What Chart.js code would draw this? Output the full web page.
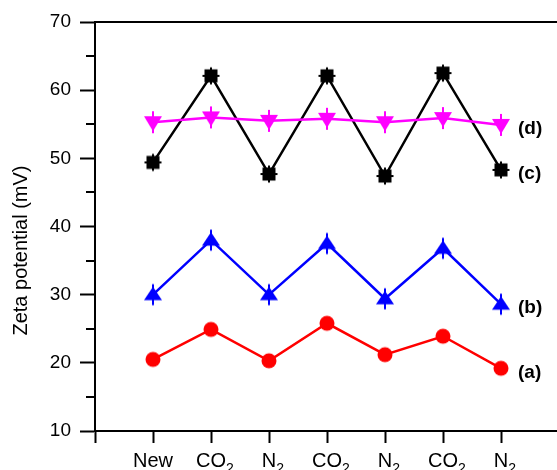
<!DOCTYPE html>
<html>
<head>
<meta charset="utf-8">
<title>Zeta potential</title>
<script src="https://cdn.jsdelivr.net/npm/chart.js@4/dist/chart.umd.min.js"></script>
<style>
  html, body { margin: 0; padding: 0; overflow: hidden; background: #fff; }
  #wrap { position: absolute; left: 0; top: 0; width: 580px; height: 470px; }
</style>
</head>
<body>
<div id="wrap"><canvas id="zeta-chart" width="580" height="470"></canvas></div>
<script>
"use strict";

// categories on the x axis (digits become subscripts when drawn)
const categories = ["New", "CO2", "N2", "CO2", "N2", "CO2", "N2"];
const yTicks = [10, 20, 30, 40, 50, 60, 70];

// zeta potential (mV)
const seriesA = [20.5, 24.9, 20.3, 25.8, 21.2, 23.9, 19.2];
const seriesB = [30.0, 38.0, 30.0, 37.5, 29.4, 36.8, 28.6];
const seriesC = [49.4, 62.1, 47.7, 62.1, 47.4, 62.5, 48.3];
const seriesD = [55.3, 56.0, 55.5, 55.8, 55.3, 55.9, 54.9];

const FONT = "Arial, 'Liberation Sans', Helvetica, sans-serif";

// small canvases used as point styles
function makeMarker(kind, color) {
  const c = document.createElement("canvas");
  c.width = 24;
  c.height = 24;
  const g = c.getContext("2d");
  const m = 12;
  g.fillStyle = color;
  g.strokeStyle = color;
  g.lineWidth = 2;
  if (kind === "circle") {
    g.beginPath();
    g.arc(m, m, 7.5, 0, Math.PI * 2);
    g.fill();
  } else if (kind === "up") {
    g.beginPath();
    g.moveTo(m, m - 8);
    g.lineTo(m + 9, m + 5.5);
    g.lineTo(m - 9, m + 5.5);
    g.closePath();
    g.fill();
    g.beginPath();
    g.moveTo(m, m - 10.5);
    g.lineTo(m, m + 10.5);
    g.stroke();
  } else if (kind === "down") {
    g.beginPath();
    g.moveTo(m - 9, m - 6);
    g.lineTo(m + 9, m - 6);
    g.lineTo(m, m + 9);
    g.closePath();
    g.fill();
    g.beginPath();
    g.moveTo(m, m - 11);
    g.lineTo(m, m + 11);
    g.stroke();
  } else {
    g.fillRect(m - 6.5, m - 6.5, 13, 13);
    g.beginPath();
    g.moveTo(m - 8.5, m); g.lineTo(m + 8.5, m);
    g.moveTo(m, m - 8.5); g.lineTo(m, m + 8.5);
    g.stroke();
  }
  return c;
}

function toPoints(values) {
  return categories.map((_, i) => ({ x: i, y: values[i] }));
}

function series(tag, values, color, marker) {
  return {
    label: tag,
    data: toPoints(values),
    borderColor: color,
    backgroundColor: color,
    borderWidth: 2.5,
    tension: 0,
    pointStyle: makeMarker(marker, color),
    pointRadius: 9,
    xAxisID: "x",
    yAxisID: "y"
  };
}

// series tags, minor y ticks, subscripted x labels, rotated y title
const decorPlugin = {
  id: "decor",
  afterDatasetsDraw(chart) {
    const ctx = chart.ctx;
    const xs = chart.scales.x;
    const ys = chart.scales.y;
    const area = chart.chartArea;

    ctx.save();
    ctx.fillStyle = "#000";
    ctx.font = "bold 19px " + FONT;
    ctx.textAlign = "left";
    ctx.textBaseline = "middle";
    chart.data.datasets.forEach((ds, i) => {
      const pts = chart.getDatasetMeta(i).data;
      const last = pts[pts.length - 1];
      ctx.fillText(ds.label, last.x + 17, last.y + 4);
    });

    // minor ticks on the y axis
    ctx.strokeStyle = "#000";
    ctx.lineWidth = 2;
    for (let v = yTicks[0] + 5; v < yTicks[yTicks.length - 1]; v += 10) {
      const y = Math.round(ys.getPixelForValue(v));
      ctx.beginPath();
      ctx.moveTo(area.left - 9, y);
      ctx.lineTo(area.left, y);
      ctx.stroke();
    }

    // x labels with subscripts
    ctx.textBaseline = "alphabetic";
    categories.forEach((label, i) => {
      const parts = label.match(/^(\D+)(\d*)$/);
      const main = parts[1];
      const sub = parts[2];
      const x = xs.getPixelForValue(i);
      ctx.font = "20px " + FONT;
      const w = ctx.measureText(main).width;
      ctx.fillText(main, x - w / 2, 467);
      if (sub) {
        ctx.font = "14px " + FONT;
        ctx.fillText(sub, x + w / 2, 473);
      }
    });

    // y axis title
    ctx.translate(21, (area.top + area.bottom) / 2 + 24);
    ctx.rotate(-Math.PI / 2);
    ctx.font = "20px " + FONT;
    ctx.textAlign = "center";
    ctx.textBaseline = "middle";
    ctx.fillText("Zeta potential (mV)", 0, 0);
    ctx.restore();
  }
};

const ctx = document.getElementById("zeta-chart");

new Chart(ctx, {
  type: "line",
  data: {
    datasets: [
      series("(d)", seriesD, "#ff00ff", "down"),
      series("(c)", seriesC, "#000000", "square"),
      series("(b)", seriesB, "#0000ff", "up"),
      series("(a)", seriesA, "#ff0000", "circle")
    ]
  },
  options: {
    responsive: false,
    animation: false,
    layout: { padding: { top: 22, right: 21, left: 0, bottom: 0 } },
    plugins: {
      legend: { display: false },
      tooltip: { enabled: false }
    },
    scales: {
      x: {
        type: "linear",
        position: "bottom",
        min: -1,
        max: categories.length,
        afterFit: (s) => { s.height = 39; },
        ticks: { display: false, stepSize: 1 },
        grid: {
          drawOnChartArea: false,
          tickLength: 12,
          tickWidth: 2,
          tickColor: "#000"
        },
        border: { color: "#000", width: 2 }
      },
      xTop: {
        type: "linear",
        position: "top",
        min: -1,
        max: categories.length,
        afterFit: (s) => { s.height = 0; },
        ticks: { display: false },
        grid: { display: false },
        border: { color: "#000", width: 2 }
      },
      y: {
        min: yTicks[0],
        max: yTicks[yTicks.length - 1],
        afterFit: (s) => { s.width = 95; },
        ticks: {
          stepSize: 10,
          color: "#000",
          padding: 9,
          font: { family: FONT, size: 19 }
        },
        grid: {
          drawOnChartArea: false,
          tickLength: 15,
          tickWidth: 2,
          tickColor: "#000"
        },
        border: { color: "#000", width: 2 }
      }
    }
  },
  plugins: [decorPlugin]
});
</script>
</body>
</html>
